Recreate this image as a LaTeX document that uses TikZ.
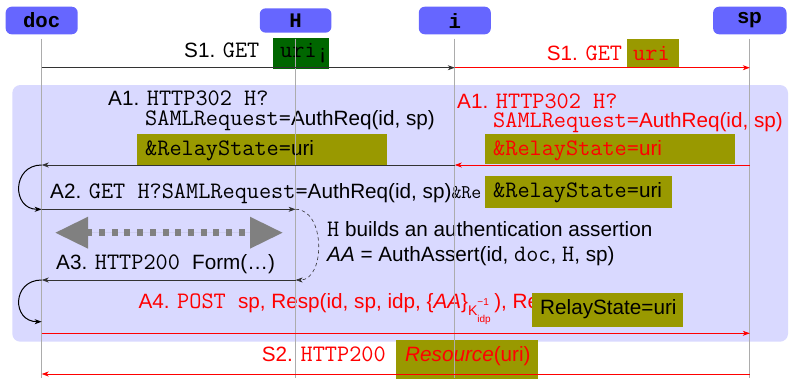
\documentclass[tikz,border=0pt]{standalone}
\usepackage{fontspec}
\setmainfont{Liberation Sans}
\setsansfont{Liberation Sans}
\setmonofont[Scale=1.14]{Latin Modern Mono}
\newfontfamily\hdrmono{Liberation Mono}
\usetikzlibrary{arrows.meta}
\definecolor{hdrblue}{RGB}{102,102,255}
\definecolor{shadeblue}{RGB}{217,217,255}
\definecolor{oliveb}{RGB}{153,153,0}
\definecolor{dgreen}{RGB}{0,102,0}
\definecolor{lifegray}{RGB}{172,172,172}
\definecolor{tipgray}{RGB}{128,128,128}
\tikzset{
  hdr/.style={fill=hdrblue, rounded corners=6pt, inner sep=0pt, font=\fontsize{20.7}{24}\selectfont\hdrmono\bfseries},
  life/.style={draw=lifegray, line width=0.9pt},
  lbl/.style={anchor=base west, inner sep=0pt},
  msg/.style={-{Stealth[length=7pt,width=5pt,inset=2pt]}, line width=0.8pt, draw=black!80},
  rmsg/.style={msg, draw=red, color=red},
  loopmsg/.style={msg, draw=black, line width=1pt},
  obox/.style={fill=oliveb, draw=none},
  gbox/.style={fill=dgreen, draw=none},
  every node/.style={font=\fontsize{20.7}{24}\selectfont}
}
\begin{document}
\begin{tikzpicture}[x=1pt,y=-1pt]
\useasboundingbox (0,0) rectangle (789,378);
% shaded block
\fill[shadeblue, rounded corners=8pt] (12.3,85) rectangle (788,341.7);
% headers
\node[hdr, minimum width=72pt, minimum height=27.6pt] (doc) at (41.7,20.5) {doc};
\node[hdr, minimum width=71.7pt, minimum height=24.4pt] (H) at (295.6,20.5) {H};
\node[hdr, minimum width=72pt, minimum height=27.6pt] (i) at (454.8,20.5) {i};
\node[hdr, minimum width=73.4pt, minimum height=27.6pt, font=\fontsize{20.7}{24}\selectfont\sffamily\bfseries] (sp) at (749.8,20.5) {sp};
% levels
\coordinate (bot) at (0,378);
\coordinate (yS1) at (0,67.7);
\coordinate (yA1) at (0,165);
\coordinate (yA2) at (0,209.3);
\coordinate (yA3) at (0,280);
\coordinate (yA4c) at (0,321.7);
\coordinate (yA4) at (0,333.3);
\coordinate (yS2) at (0,374);
% --- texts (under boxes)
\node[lbl] (s1t) at (184,57.3) {S1. \texttt{GET}};
\node[lbl, red] (s1rt) at (546.7,60) {S1. \texttt{GET}};
\node[lbl, align=left, font=\fontsize{20.7}{20.5}\selectfont] (a1t) at (108,125.5) {A1. \texttt{HTTP302 H?}\\\hspace*{37pt}\texttt{SAMLRequest=}AuthReq(id, sp)};
\node[lbl, red, align=left, font=\fontsize{20.7}{19}\selectfont] (a1rt) at (457,127.3) {A1. \texttt{HTTP302 H?}\\\hspace*{36pt}\texttt{SAMLRequest=}AuthReq(id, sp)};
\node[lbl] (a2t) at (50,198) {A2. \texttt{GET H?SAMLRequest=}AuthReq(id, sp)\texttt{\fontsize{17}{17}\selectfont\&Re}};
\node[lbl] (a3t) at (56,269) {A3. \texttt{HTTP200 }Form(\ldots)};
\node[lbl] (hb1) at (327,236.7) {\texttt{H} builds an authentication assertion};
\node[lbl] (hb2) at (327,261.7) {\textit{AA} = AuthAssert(id, \texttt{doc}, \texttt{H}, sp)};
\node[lbl, red] (a4t) at (138.3,308.5) {A4. \texttt{POST }sp, Resp(id, sp, idp, \{\textit{AA}\}\raisebox{-6.5pt}{\fontsize{14}{14}\selectfont K}\raisebox{3.5pt}{\fontsize{10}{10}\selectfont \rlap{−1}}\raisebox{-13.5pt}{\fontsize{10}{10}\selectfont idp}\,), Re};
\node[lbl, red] (s2t) at (261.7,361.3) {S2. \texttt{HTTP200}};
% --- coloured boxes
\path[gbox] (273,38) rectangle (329,69) node[pos=0, lbl, anchor=base west, xshift=7pt, yshift=-19.3pt] (s1u) {\texttt{uri¡}};
\path[obox] (627,39) rectangle (678.7,66.7) node[pos=0, lbl, red, xshift=6pt, yshift=-21pt] (s1ru) {\texttt{uri}};
\path[obox] (136.7,134.3) rectangle (386.7,165) node[pos=0, lbl, xshift=8.3pt, yshift=-20.7pt] (a1b) {\texttt{\&RelayState=}uri};
\path[obox] (485,134) rectangle (735,164) node[pos=0, lbl, red, xshift=8pt, yshift=-21pt] (a1rb) {\texttt{\&RelayState=}uri};
\path[obox] (485,176) rectangle (671.7,207.7) node[pos=0, lbl, xshift=8pt, yshift=-21.5pt] (a2b) {\texttt{\&RelayState=}uri};
\path[obox] (532.3,293.3) rectangle (682.7,326.7) node[pos=0, lbl, xshift=7.7pt, yshift=-20.7pt] (a4b) {RelayState=uri};
\path[obox] (396,340) rectangle (538.3,380) node[pos=0, lbl, red, xshift=9pt, yshift=-21.5pt] (s2b) {\textit{Resource}(uri)};
% --- lifelines
\draw[life] ([yshift=-4pt]doc.south) -- (doc.south |- bot);
\draw[life] ([yshift=-5.6pt]H.south) -- (H.south |- bot);
\draw[life] ([yshift=-4pt]i.south) -- (i.south |- bot);
\draw[life] ([yshift=-4pt]sp.south) -- (sp.south |- bot);
% --- messages
\draw[msg] (doc |- yS1) -- (i |- yS1);
\draw[rmsg] (i |- yS1) -- (sp |- yS1);
\draw[rmsg] (sp |- yA1) -- (i |- yA1);
\draw[msg] (i |- yA1) -- (doc |- yA1);
\draw[loopmsg] (doc |- yA1) .. controls +(-30,0) and +(-30,0) .. (doc |- yA2);
\draw[msg] (doc |- yA2) -- (H |- yA2);
\draw[msg, dash pattern=on 3.5pt off 3pt, line width=0.6pt] (H |- yA2) .. controls +(30,0) and +(30,0) .. (H |- yA3);
\coordinate (dl) at (55,232.7);
\coordinate (dr) at (283,232.7);
\draw[draw=tipgray, fill=tipgray, line width=6.5pt, dash pattern=on 6pt off 6.7pt, {Triangle[length=33pt,width=30pt]}-{Triangle[length=33pt,width=30pt]}] (dl) -- (dr);
\draw[msg] (H |- yA3) -- (doc |- yA3);
\draw[loopmsg] (doc |- yA3) .. controls +(-30,0) and +(-30,0) .. (doc |- yA4c);
\draw[rmsg] (doc |- yA4) -- (sp |- yA4);
\draw[rmsg] (sp |- yS2) -- (doc |- yS2);
\end{tikzpicture}
\end{document}
